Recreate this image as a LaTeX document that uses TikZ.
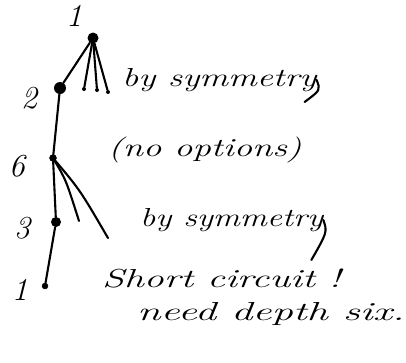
\documentclass[tikz,border=0pt]{standalone}
\usepackage{tikz}
\usepackage{graphicx}
\usetikzlibrary{positioning}

\newcommand{\wide}[2]{\scalebox{#1}[1]{#2}}

\begin{document}
\begin{tikzpicture}[
  x=1pt, y=-1pt,
  font=\fontsize{26}{30}\selectfont\itshape,
  vertex/.style={circle, fill=black, inner sep=0pt, minimum size=11pt},
  smallvertex/.style={circle, draw=black, fill=black, inner sep=0pt, minimum size=7pt},
  stubend/.style={circle, fill=black, inner sep=0pt, minimum size=4pt},
  edge/.style={line width=2.1pt, line cap=round},
  depthlabel/.style={inner sep=0pt, font=\fontsize{32}{36}\selectfont\itshape},
  note/.style={inner sep=0pt, anchor=west}
]
  \useasboundingbox (0,0) rectangle (406,362);

  % tree nodes
  \node[vertex] (root) at (93,38) {};
  \node[vertex, minimum size=12pt] (two) at (60,88) {};
  \node[smallvertex] (six) at (53,158) {};
  \node[vertex, minimum size=10pt] (three) at (56,222) {};
  \node[smallvertex, minimum size=6pt] (one) at (45,286) {};

  % depth counts
  \node[depthlabel] (lroot) at (74,16) {1};
  \node[depthlabel] (ltwo) at (29,98) {2};
  \node[depthlabel] (lsix) at (17,166) {6};
  \node[depthlabel] (lthree) at (22,228) {3};
  \node[depthlabel] (lone) at (20,290) {1};

  % symmetric siblings of the first move
  \node[stubend] (s1) at (84,89) {};
  \node[stubend] (s2) at (97,90) {};
  \node[stubend] (s3) at (108,92) {};
  \coordinate (c1) at (79,221);
  \coordinate (c2) at (108,238);

  % remarks
  \node[note] (sym1) at (122,80) {\wide{1.38}{by symmetry}};
  \node[note] (noopt) at (108,150) {\wide{1.41}{(no options)}};
  \node[note] (sym2) at (140,220) {\wide{1.3}{by symmetry}};
  \node[note] (short) at (102,278) {\wide{1.53}{Short circuit !}};
  \node[note] (depth) at (137,314) {\wide{1.64}{need depth six.}};

  % edges
  \draw[edge] (root) -- (two);
  \draw[edge] (two) -- (six);
  \draw[edge] (six) -- (three);
  \draw[edge] (three) -- (one);
  \draw[edge] (root) -- (s1);
  \draw[edge] (root) -- (s2);
  \draw[edge] (root) -- (s3);
  \draw[edge] (six) .. controls (66,180) .. (c1);
  \draw[edge] (six) .. controls (80,190) .. (c2);

  % descenders
  \draw[edge] (sym1.east) .. controls ++(4,10) .. ++(-12,22);
  \draw[edge] (sym2.east) .. controls ++(4,12) .. ++(-12,40);

\end{tikzpicture}
\end{document}
